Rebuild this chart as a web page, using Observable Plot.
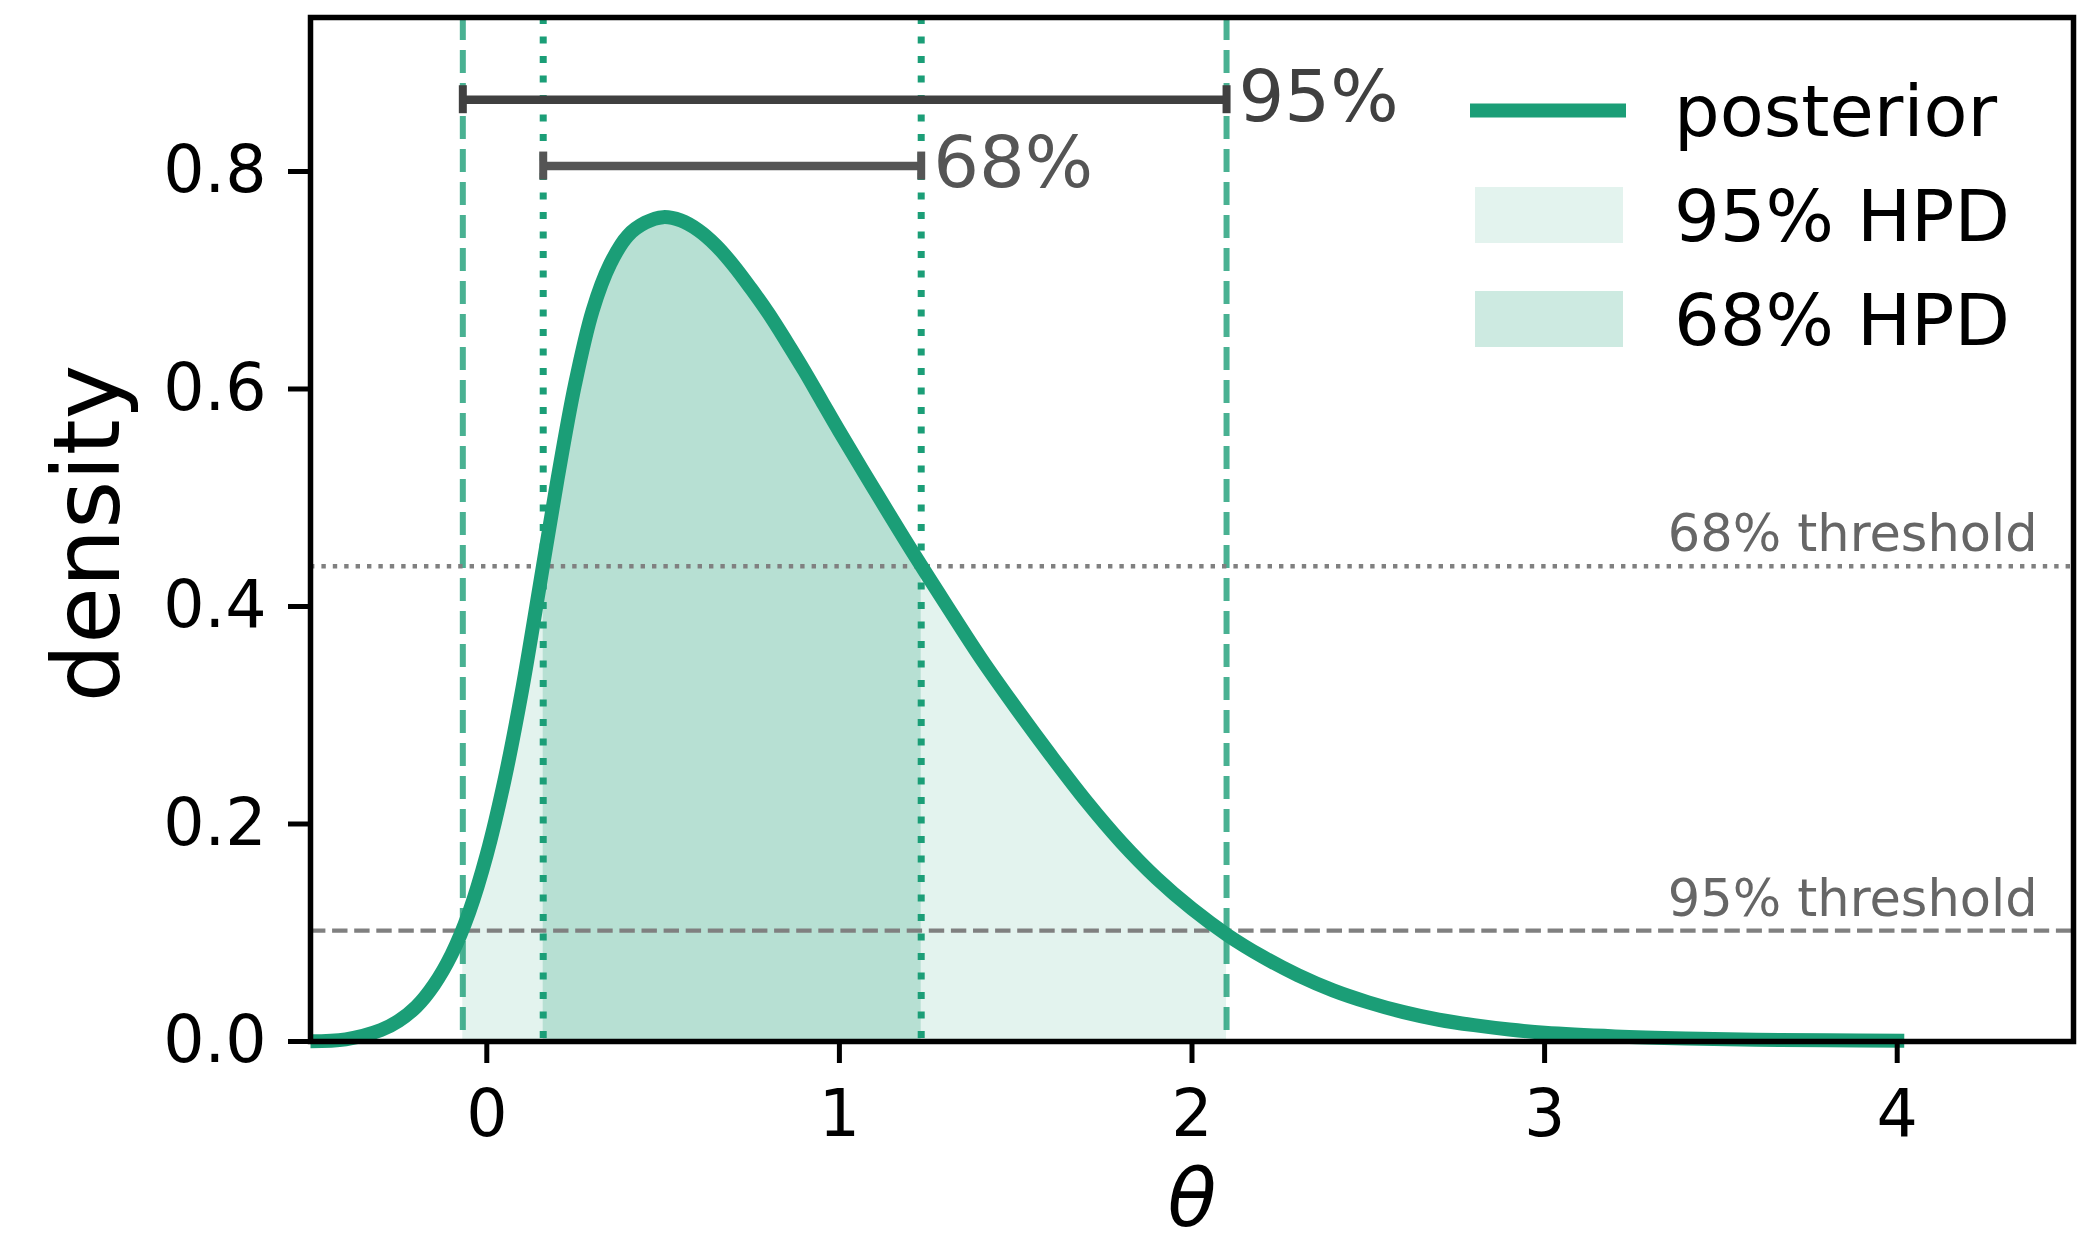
<!DOCTYPE html>
<html>
<head>
<meta charset="utf-8">
<script src="https://cdn.jsdelivr.net/npm/d3@7"></script>
<script src="https://cdn.jsdelivr.net/npm/@observablehq/plot@0.6"></script>
<style>
  html, body { margin: 0; padding: 0; background: #fff; }
  #wrap { width: 2095px; height: 1244px; overflow: hidden; }
</style>
</head>
<body>
<div id="wrap"></div>
<script>
// ---------------- data ----------------
const theta = [-0.5, -0.4, -0.3, -0.25, -0.2, -0.15, -0.1, -0.05, 0.0, 0.05, 0.1, 0.15, 0.2, 0.25, 0.3, 0.35, 0.4, 0.45, 0.5, 0.55, 0.6, 0.65, 0.7, 0.75, 0.8, 0.85, 0.9, 0.95, 1.0, 1.1, 1.2, 1.3, 1.4, 1.5, 1.6, 1.7, 1.8, 1.9, 2.0, 2.1, 2.2, 2.3, 2.4, 2.5, 2.6, 2.7, 2.8, 2.9, 3.0, 3.2, 3.4, 3.6, 3.8, 4.02];
const density = [0.0003, 0.002, 0.0105, 0.019, 0.032, 0.052, 0.080, 0.119, 0.172, 0.240, 0.323, 0.419, 0.516, 0.604, 0.672, 0.715, 0.741, 0.753, 0.758, 0.755, 0.746, 0.732, 0.7135, 0.692, 0.669, 0.6435, 0.617, 0.589, 0.561, 0.507, 0.454, 0.403, 0.353, 0.307, 0.263, 0.221, 0.183, 0.150, 0.122, 0.098, 0.078, 0.061, 0.047, 0.036, 0.027, 0.020, 0.015, 0.011, 0.008, 0.0047, 0.0028, 0.0017, 0.0011, 0.0007];
const hpd95 = [-0.068, 2.098];
const hpd68 = [0.160, 1.232];
const threshold68 = 0.437;
const threshold95 = 0.102;
const barY95 = 0.866;
const barY68 = 0.805;
const xTicks = [0, 1, 2, 3, 4];
const yTicks = [0, 0.2, 0.4, 0.6, 0.8];
const xDomain = [-0.5, 4.5];
const yDomain = [0, 0.9416];
const legendLabels = ["posterior", "95% HPD", "68% HPD"];
const thresholdLabels = ["68% threshold", "95% threshold"];
const barLabels = ["95%", "68%"];
const xLabel = "θ";
const yLabel = "density";

// ---------------- styling ----------------
const GREEN = "#1b9e77";
const FONT = "DejaVu Sans";
const W = 2095, H = 1244;
const mL = 310, mR = 22, mT = 17, mB = 203;
const capHalf = 14 * (yDomain[1] - yDomain[0]) / (H - mT - mB);

const pts = theta.map((t, i) => ({theta: t, density: density[i]}));
const thr68 = [{y: threshold68, label: thresholdLabels[0]}];
const thr95 = [{y: threshold95, label: thresholdLabels[1]}];
const bars = [
  {y: barY95, x1: hpd95[0], x2: hpd95[1], label: barLabels[0], color: "#404040"},
  {y: barY68, x1: hpd68[0], x2: hpd68[1], label: barLabels[1], color: "#555555"}
];
const caps = bars.flatMap(b => [b.x1, b.x2].map(x => ({x, y1: b.y - capHalf, y2: b.y + capHalf, color: b.color})));
const CURVE = "catmull-rom";

const chart = Plot.plot({
  width: W, height: H,
  marginLeft: mL, marginRight: mR, marginTop: mT, marginBottom: mB,
  style: {fontFamily: FONT, color: "#000", background: "#fff"},
  x: {domain: xDomain, label: null},
  y: {domain: yDomain, label: null},
  marks: [
    Plot.areaY(pts, {x: "theta", y: "density", fill: GREEN, fillOpacity: 0.12, curve: CURVE, ariaDescription: "hpd95"}),
    Plot.areaY(pts, {x: "theta", y: "density", fill: GREEN, fillOpacity: 0.22, curve: CURVE, ariaDescription: "hpd68"}),
    Plot.ruleX(hpd95, {stroke: GREEN, strokeOpacity: 0.8, strokeWidth: 6, strokeDasharray: "23,10"}),
    Plot.ruleX(hpd68, {stroke: GREEN, strokeWidth: 7, strokeDasharray: "7,12.5"}),
    Plot.ruleY(thr68, {y: "y", stroke: "#808080", strokeWidth: 4.4, strokeDasharray: "4.4,7"}),
    Plot.ruleY(thr95, {y: "y", stroke: "#808080", strokeWidth: 4.2, strokeDasharray: "15.4,6.7"}),
    Plot.text(thr68.concat(thr95), {y: "y", text: "label", frameAnchor: "right", textAnchor: "end", lineAnchor: "bottom", dx: -36, dy: -15, fill: "#666666", fontSize: 51}),
    Plot.line(pts, {x: "theta", y: "density", stroke: GREEN, strokeWidth: 14, curve: CURVE, strokeLinecap: "butt", strokeLinejoin: "round"}),
    Plot.ruleY(bars, {y: "y", x1: "x1", x2: "x2", stroke: d => d.color, strokeWidth: 8.5}),
    Plot.ruleX(caps, {x: "x", y1: "y1", y2: "y2", stroke: d => d.color, strokeWidth: 8}),
    Plot.text(bars, {x: "x2", y: "y", text: "label", textAnchor: "start", lineAnchor: "bottom", dx: 12, dy: 21, fill: d => d.color, fontSize: 72}),
    Plot.axisX({ticks: xTicks, tickFormat: d3.format("d"), tickSize: 22, tickPadding: 26, fontSize: 65, strokeWidth: 5, stroke: "#000", fill: "#000", label: null}),
    Plot.axisY({ticks: yTicks, tickFormat: d3.format(".1f"), tickSize: 22, tickPadding: 22, fontSize: 65, strokeWidth: 5, stroke: "#000", fill: "#000", label: null}),
    Plot.frame({stroke: "#000", strokeWidth: 5.5}),
    Plot.text([xLabel], {frameAnchor: "bottom", text: d => d, textAnchor: "middle", lineAnchor: "bottom", dy: 184, fontSize: 80, fontStyle: "italic", fill: "#000"}),
    Plot.text([yLabel], {frameAnchor: "left", text: d => d, rotate: -90, textAnchor: "middle", lineAnchor: "bottom", dx: -192, dy: 4, fontSize: 92, fill: "#000"})
  ]
});

document.getElementById("wrap").appendChild(chart);

// clip the HPD fills to their intervals
const svg = d3.select(chart);
const xs = chart.scale("x");
const defs = svg.insert("defs", ":first-child");
[["hpd95", hpd95], ["hpd68", hpd68]].forEach(([id, [lo, hi]]) => {
  defs.append("clipPath").attr("id", "clip-" + id)
    .append("rect")
    .attr("x", xs.apply(lo)).attr("width", xs.apply(hi) - xs.apply(lo))
    .attr("y", 0).attr("height", H);
  svg.selectAll(`g[aria-description="${id}"]`).attr("clip-path", `url(#clip-${id})`);
});

// legend (upper right, inside the axes)
const lg = svg.append("g").attr("font-family", FONT).attr("font-size", 72)
  .attr("fill", "#000").attr("text-anchor", "start");
lg.append("line").attr("x1", 1470).attr("x2", 1626).attr("y1", 110.5).attr("y2", 110.5)
  .attr("stroke", GREEN).attr("stroke-width", 14);
lg.append("rect").attr("x", 1475).attr("y", 187).attr("width", 148).attr("height", 56)
  .attr("fill", GREEN).attr("fill-opacity", 0.12);
lg.append("rect").attr("x", 1475).attr("y", 291).attr("width", 148).attr("height", 56)
  .attr("fill", GREEN).attr("fill-opacity", 0.22);
[136, 241, 345].forEach((yb, i) => {
  lg.append("text").attr("x", 1674).attr("y", yb).text(legendLabels[i]);
});
</script>
</body>
</html>
